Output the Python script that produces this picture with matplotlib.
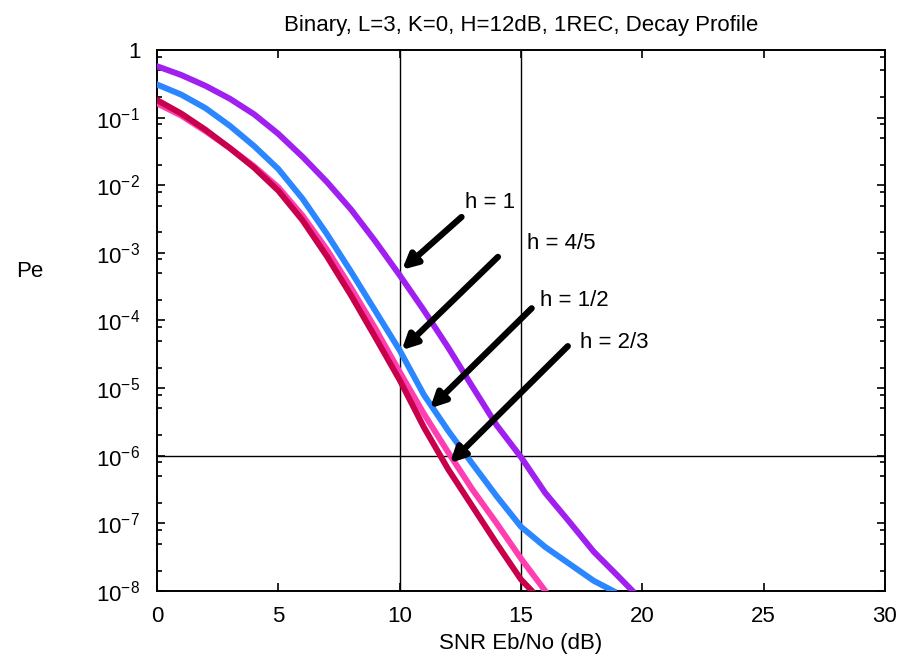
import matplotlib
matplotlib.use('Agg')
import matplotlib.pyplot as plt
from matplotlib.ticker import LogLocator, FixedLocator, NullFormatter
import numpy as np

plt.rcParams['font.family'] = ['Liberation Sans', 'DejaVu Sans']
plt.rcParams['mathtext.fontset'] = 'custom'
plt.rcParams['mathtext.rm'] = 'Liberation Sans'
plt.rcParams['mathtext.it'] = 'Liberation Sans'

# SNR (dB) and log10(Pe)
snr_h1 = [0, 1, 2, 3, 4, 5, 6, 7, 8, 9, 10, 11, 12, 13, 14, 15, 16, 17, 18, 19, 19.6]
logpe_h1 = [-0.24, -0.37, -0.53, -0.72, -0.95, -1.24, -1.58, -1.95, -2.36, -2.83, -3.33,
            -3.85, -4.4, -4.98, -5.55, -6.02, -6.55, -6.98, -7.42, -7.78, -8.0]

snr_h45 = [0, 1, 2, 3, 4, 5, 6, 7, 8, 9, 10, 11, 12, 13, 14, 15, 16, 17, 18, 18.8]
logpe_h45 = [-0.51, -0.66, -0.86, -1.12, -1.42, -1.76, -2.2, -2.72, -3.28, -3.86, -4.44,
             -5.1, -5.63, -6.12, -6.6, -7.05, -7.35, -7.6, -7.85, -8.0]

snr_h12 = [0, 1, 2, 3, 4, 5, 6, 7, 8, 9, 10, 11, 12, 13, 14, 15, 16]
logpe_h12 = [-0.79, -0.97, -1.2, -1.45, -1.72, -2.03, -2.45, -2.95, -3.52, -4.12, -4.76,
             -5.38, -5.95, -6.5, -7.0, -7.52, -8.0]

snr_h23 = [0, 1, 2, 3, 4, 5, 6, 7, 8, 9, 10, 11, 12, 13, 14, 15, 15.45]
logpe_h23 = [-0.74, -0.94, -1.18, -1.45, -1.74, -2.08, -2.52, -3.05, -3.63, -4.25, -4.88,
             -5.58, -6.2, -6.75, -7.3, -7.83, -8.0]

# arrow labels: text, text pos (snr, log10 pe), tail, tip
labels = ['h = 1', 'h = 4/5', 'h = 1/2', 'h = 2/3']
text_pos = [(12.7, -2.26), (15.25, -2.86), (15.8, -3.70), (17.45, -4.33)]
tails = [(12.55, -2.47), (14.05, -3.06), (15.44, -3.82), (16.93, -4.38)]
tips = [(10.1, -3.25), (10.08, -4.44), (11.25, -5.3), (12.07, -6.11)]

fig = plt.figure(figsize=(8.99, 6.62), dpi=100)
ax = fig.add_axes([0.1746, 0.1073, 0.8098, 0.8172])

ax.plot(snr_h1, 10 ** np.array(logpe_h1), color='#a020f0', lw=4.3, zorder=3)
ax.plot(snr_h45, 10 ** np.array(logpe_h45), color='#2b87ff', lw=4.3, zorder=3)
ax.plot(snr_h12, 10 ** np.array(logpe_h12), color='#ff3eb0', lw=4.3, zorder=3)
ax.plot(snr_h23, 10 ** np.array(logpe_h23), color='#c8004b', lw=4.3, zorder=3)

ax.axvline(10, color='k', lw=1.0, zorder=2)
ax.axvline(15, color='k', lw=1.0, zorder=2)
ax.axhline(1e-6, color='k', lw=1.0, zorder=2)

for lab, tp, tl, tip in zip(labels, text_pos, tails, tips):
    ax.annotate('', xy=(tip[0], 10 ** tip[1]), xytext=(tl[0], 10 ** tl[1]),
                arrowprops=dict(arrowstyle='-|>', color='k', lw=4.5,
                                mutation_scale=22, shrinkA=0, shrinkB=0),
                zorder=4)
    ax.text(tp[0], 10 ** tp[1], lab, fontsize=16, ha='left', va='center', zorder=5)

ax.set_yscale('log')
ax.set_xlim(0, 30)
ax.set_ylim(1e-8, 1)
ax.set_xticks([0, 5, 10, 15, 20, 25, 30])
ax.yaxis.set_major_locator(FixedLocator([10.0 ** -k for k in range(9)]))
ax.set_yticklabels(['1'] + [r'$10^{-%d}$' % k for k in range(1, 9)])
ax.yaxis.set_minor_locator(LogLocator(base=10, subs=[2, 5, 8], numticks=20))
ax.yaxis.set_minor_formatter(NullFormatter())

ax.tick_params(which='both', direction='in', top=True, right=True, labelsize=16)
ax.tick_params(which='major', length=6, width=1.2)
ax.tick_params(which='minor', length=3.5, width=1.2)
ax.tick_params(axis='x', pad=11)
ax.tick_params(axis='y', pad=12)
for s in ax.spines.values():
    s.set_linewidth(1.4)

ax.set_title('Binary, L=3, K=0, H=12dB, 1REC, Decay Profile', fontsize=16, pad=14)
ax.set_xlabel('SNR Eb/No (dB)', fontsize=16)
ax.xaxis.set_label_coords(0.5, -0.098)
ax.xaxis.label.set_va('center')
ax.set_ylabel('Pe', fontsize=16, rotation=0)
ax.yaxis.set_label_coords(-0.175, 0.59)
ax.yaxis.label.set_va('center')
ax.yaxis.label.set_ha('center')

fig.savefig('out.png', dpi=100)
